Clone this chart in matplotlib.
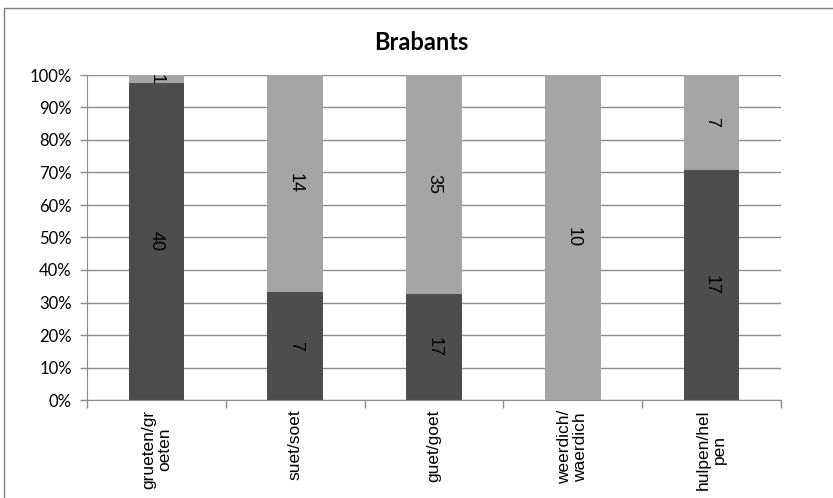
import matplotlib
matplotlib.use("Agg")
import matplotlib.pyplot as plt
from matplotlib.patches import Rectangle
from matplotlib.ticker import PercentFormatter, FixedLocator
import numpy as np

categories = ["grueten/gr\noeten", "suet/soet", "guet/goet", "weerdich/\nwaerdich", "hulpen/hel\npen"]
dark_counts = [40, 7, 17, 0, 17]
light_counts = [1, 14, 35, 10, 7]
y_ticks = [0, 10, 20, 30, 40, 50, 60, 70, 80, 90, 100]

dark_color = "#4d4d4d"
light_color = "#a5a5a5"
grid_color = "#8c8c8c"

fig = plt.figure(figsize=(8.33, 4.98), dpi=100)
fig.patches.append(Rectangle((4 / 833, -0.05), 1.05, 1 - 8 / 498 + 0.05,
                             transform=fig.transFigure, fill=False,
                             edgecolor="#7f7f7f", linewidth=1.0))

ax = fig.add_axes([87 / 833, 1 - 400 / 498, (781 - 87) / 833, (400 - 75) / 498])

dark = np.array(dark_counts, dtype=float)
light = np.array(light_counts, dtype=float)
total = dark + light
dark_pct = dark / total * 100
light_pct = light / total * 100
x = np.arange(len(categories))
width = 0.4

ax.set_axisbelow(True)
ax.yaxis.grid(True, color=grid_color, linewidth=1.0)
ax.bar(x, dark_pct, width, color=dark_color, zorder=2)
ax.bar(x, light_pct, width, bottom=dark_pct, color=light_color, zorder=2)

label_font = dict(rotation=270, ha="center", va="center", fontsize=13,
                  color="#000000", family="Liberation Sans", zorder=3)
for i in range(len(categories)):
    if dark[i] > 0:
        ax.text(x[i], dark_pct[i] / 2, f"{int(dark[i])}", **label_font)
    if light[i] > 0:
        ax.text(x[i], dark_pct[i] + light_pct[i] / 2, f"{int(light[i])}", **label_font)

ax.set_xlim(-0.5, len(categories) - 0.5)
ax.set_ylim(0, 100)
ax.set_yticks(y_ticks)
ax.yaxis.set_major_formatter(PercentFormatter(decimals=0))
for lab in ax.get_yticklabels():
    lab.set_family("Lato")
    lab.set_fontsize(12)
ax.tick_params(axis="y", length=5, color=grid_color, width=1, pad=6)

ax.set_xticks(x)
ax.set_xticklabels(categories, rotation=90, fontsize=12.5, family="Liberation Sans",
                   va="top", ha="center", multialignment="center", linespacing=1.1)
ax.tick_params(axis="x", which="major", length=0, pad=7)
ax.xaxis.set_minor_locator(FixedLocator(np.arange(-0.5, len(categories), 1.0)))
ax.tick_params(axis="x", which="minor", length=6, color=grid_color, width=1)

for side in ["top", "right"]:
    ax.spines[side].set_visible(False)
ax.spines["left"].set_color(grid_color)
ax.spines["bottom"].set_color(grid_color)

fig.text(0.506, 1 - 42 / 498, "Brabants", ha="center", va="center",
         fontsize=17, fontweight="bold", family="Lato")

fig.savefig("out.png", dpi=100)
